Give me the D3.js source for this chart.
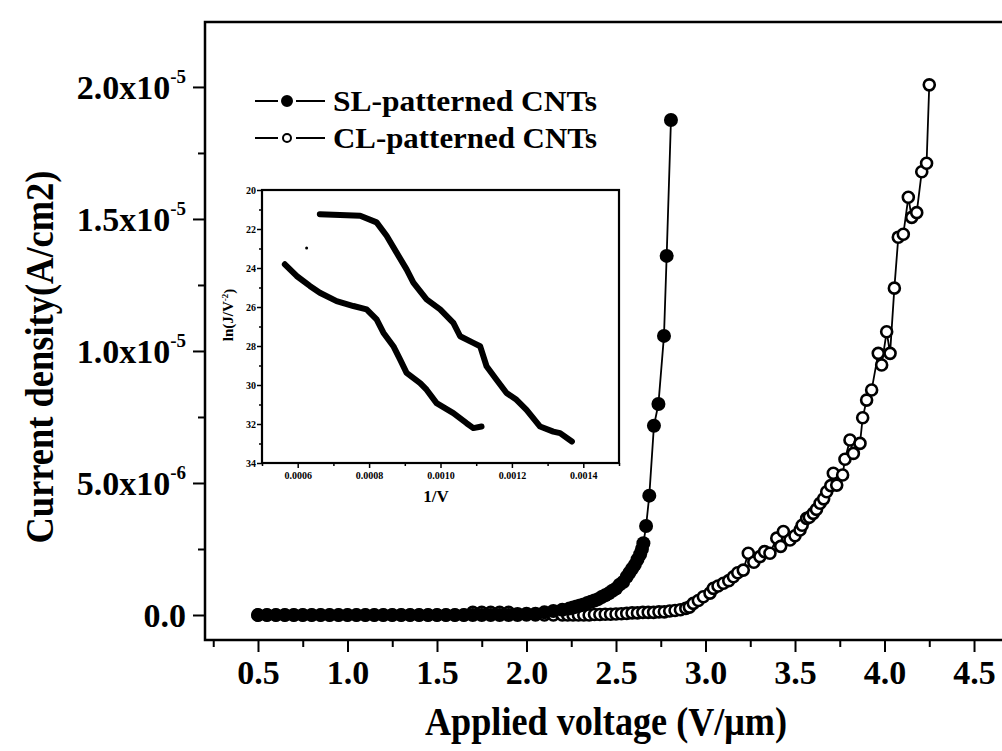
<!DOCTYPE html>
<html>
<head>
<meta charset="utf-8">
<script src="https://cdn.jsdelivr.net/npm/d3@7"></script>
<style>
  body { margin: 0; background: #fff; }
  svg { display: block; }
  text { font-family: "Liberation Serif", "Times New Roman", serif; font-weight: bold; fill: #000; }
</style>
</head>
<body>
<svg id="chart" width="1002" height="751"></svg>
<script>
// main plot: J in units of 1e-6 A/cm2
var slV = [0.50,0.55,0.60,0.65,0.70,0.75,0.80,0.85,0.90,0.95,1.00,1.05,1.10,1.15,1.20,1.25,1.30,1.35,1.40,1.45,1.50,1.55,1.60,1.65,1.70,1.75,1.80,1.85,1.90,1.95,2.00,2.05,2.10,2.15,2.20,
           2.24,2.26,2.28,2.30,2.32,2.34,2.36,2.38,2.40,2.42,2.44,2.46,2.48,2.50,2.52,2.54,2.56,2.575,2.59,2.605,2.62,2.635,2.645,2.653,
           2.668,2.686,2.712,2.737,2.768,2.783,2.807];
var slJ = [0,0,0,0,0,0,0,0,0,0,0,0,0,0,0,0,0,0,0,0,0,0,0,0,0,0,0,0,0,0,0.05,0.05,0.1,0.15,0.2,
           0.25,0.28,0.32,0.36,0.4,0.45,0.5,0.55,0.6,0.68,0.75,0.82,0.92,1.0,1.15,1.25,1.45,1.6,1.75,1.9,2.1,2.3,2.5,2.72,
           3.37,4.52,7.17,7.99,10.57,13.6,18.75];

var clV = [0.50,0.55,0.60,0.65,0.70,0.75,0.80,0.85,0.90,0.95,1.00,1.05,1.10,1.15,1.20,1.25,1.30,1.35,1.40,1.45,1.50,1.55,1.60,1.65,1.70,1.75,1.80,1.85,1.90,1.95,2.00,2.05,2.10,2.15,2.20,
           2.23,2.26,2.29,2.32,2.35,2.38,2.41,2.44,2.47,2.50,2.53,2.56,2.59,2.62,2.65,2.68,2.71,2.74,2.77,2.80,2.83,2.86,2.89,2.91,
           2.932,2.96,2.988,3.025,3.044,3.07,3.10,3.13,3.156,3.18,3.211,3.239,3.27,3.304,3.33,3.36,3.398,3.42,3.435,3.472,3.50,3.528,3.54,3.565,3.58,3.602,3.62,3.64,3.66,3.677,3.70,3.714,3.733,3.766,3.779,3.807,3.826,3.863,3.878,3.90,3.928,3.965,3.984,4.012,4.031,4.055,4.077,4.105,4.133,4.152,4.18,4.208,4.235,4.25];
var clJ = [0,0,0,0,0,0,0,0,0,0,0,0,0,0,0,0,0,0,0,0,0,0,0,0,0.1,0.1,0.1,0.1,0.1,0.05,0,0,0,0,0,
           0,0,0,0,0,0.02,0.02,0.03,0.03,0.04,0.05,0.06,0.08,0.08,0.1,0.1,0.1,0.12,0.12,0.15,0.17,0.2,0.25,0.3,
           0.44,0.55,0.69,0.83,1.01,1.1,1.2,1.3,1.45,1.6,1.7,2.34,2.0,2.21,2.4,2.34,2.91,2.6,3.16,2.84,3.0,3.22,3.4,3.66,3.7,3.85,4.0,4.23,4.4,4.67,4.9,5.37,4.92,5.3,5.9,6.63,6.12,6.5,7.47,8.14,8.52,9.91,9.47,10.73,9.91,12.38,14.31,14.42,15.82,15.06,15.24,16.79,17.11,20.08];

var xTicks = [0.5,1.0,1.5,2.0,2.5,3.0,3.5,4.0,4.5];
var xMinor = [0.25,0.75,1.25,1.75,2.25,2.75,3.25,3.75,4.25];
var yTicks = [0,5,10,15,20];
var yMant = ["0.0","5.0","1.0","1.5","2.0"];
var yExp = ["","-6","-5","-5","-5"];
var yMinor = [2.5,7.5,12.5,17.5];

var legendNames = ["SL-patterned CNTs","CL-patterned CNTs"];

// inset: ln(J/V^2) against 1/V
var inAx = [0.000662,0.000775,0.000821,0.000849,0.000877,0.000905,0.000924,0.000961,0.000999,0.001036,0.001055,0.001092,0.001111,0.001129,0.001157,0.001185,0.001213,0.001241,0.001279,0.001316,0.001335,0.001368];
var inAy = [21.24,21.32,21.66,22.35,23.21,24.07,24.75,25.61,26.12,26.81,27.50,27.84,28.01,29.04,29.73,30.41,30.76,31.27,32.13,32.39,32.47,32.90];
var inBx = [0.000564,0.000597,0.000634,0.000662,0.000709,0.000756,0.000793,0.000821,0.000840,0.000868,0.000887,0.000905,0.000943,0.000961,0.000989,0.001036,0.001073,0.001092,0.001115];
var inBy = [23.81,24.41,24.92,25.27,25.70,25.95,26.12,26.64,27.32,28.01,28.70,29.38,29.90,30.24,30.93,31.44,31.96,32.21,32.13];
var inStray = [0.000625, 22.98];
var inXTicks = [0.0006,0.0008,0.0010,0.0012,0.0014];
var inXMinor = [0.0005,0.0007,0.0009,0.0011,0.0013,0.0015];
var inYTicks = [20,22,24,26,28,30,32,34];
var inYMinor = [21,23,25,27,29,31,33];

var svg = d3.select("#chart");

var x = d3.scaleLinear().domain([0.204, 4.701]).range([205, 1010]);
var y = d3.scaleLinear().domain([-0.947, 22.46]).range([640, 22]);

// frame
svg.append("path")
    .attr("d", "M1010," + y.range()[1] + "H205V640H1010")
    .attr("fill", "none").attr("stroke", "#000").attr("stroke-width", 2.5);

// x axis
var gx = svg.append("g").attr("transform", "translate(0,640)");
gx.call(d3.axisBottom(x).tickValues(xTicks).tickSize(12).tickFormat(d3.format(".1f")));
gx.append("g").call(d3.axisBottom(x).tickValues(xMinor).tickSize(7).tickFormat(""));
gx.selectAll(".domain").remove();
gx.selectAll("line").attr("stroke", "#000").attr("stroke-width", 2);
gx.selectAll(".tick text").attr("font-size", 34).attr("y", 20).attr("dy", "0.71em")
    .style("font-family", "'Liberation Serif', serif").style("font-weight", "bold");

// y axis
var gy = svg.append("g").attr("transform", "translate(205,0)");
gy.call(d3.axisLeft(y).tickValues(yTicks).tickSize(12).tickFormat(""));
gy.append("g").call(d3.axisLeft(y).tickValues(yMinor).tickSize(7).tickFormat(""));
gy.selectAll(".domain").remove();
gy.selectAll("line").attr("stroke", "#000").attr("stroke-width", 2);
gy.selectAll(".tick").filter(function(d) { return yTicks.indexOf(d) >= 0; })
    .append("text")
    .attr("x", -19).attr("dy", "0.34em").attr("text-anchor", "end")
    .attr("font-size", 34)
    .each(function(d) {
        var i = yTicks.indexOf(d);
        var t = d3.select(this);
        if (yExp[i] === "") {
            t.text(yMant[i]);
        } else {
            t.append("tspan").text(yMant[i] + "x10");
            t.append("tspan").attr("font-size", 19).attr("dy", "-0.85em").text(yExp[i]);
        }
    });

// axis titles
svg.append("text")
    .attr("transform", "translate(53,357) rotate(-90)")
    .attr("text-anchor", "middle").attr("font-size", 40)
    .attr("textLength", 373).attr("lengthAdjust", "spacingAndGlyphs")
    .text("Current density(A/cm2)");
svg.append("text")
    .attr("x", 606).attr("y", 735)
    .attr("text-anchor", "middle").attr("font-size", 40)
    .attr("textLength", 362).attr("lengthAdjust", "spacingAndGlyphs")
    .text("Applied voltage (V/\u03bcm)");

// series
var line = d3.line().x(function(d) { return x(d[0]); }).y(function(d) { return y(d[1]); });
var slData = slV.map(function(v, i) { return [v, slJ[i]]; });
var clData = clV.map(function(v, i) { return [v, clJ[i]]; });

svg.append("path").datum(clData).attr("d", line)
    .attr("fill", "none").attr("stroke", "#000").attr("stroke-width", 1.8);
svg.append("path").datum(slData).attr("d", line)
    .attr("fill", "none").attr("stroke", "#000").attr("stroke-width", 1.8);

// open circles first, filled ones on top so the shared baseline reads dark
svg.append("g").selectAll("circle").data(clData).enter().append("circle")
    .attr("cx", function(d) { return x(d[0]); })
    .attr("cy", function(d) { return y(d[1]); })
    .attr("r", 5.5).attr("fill", "#fff").attr("stroke", "#000").attr("stroke-width", 2.6);
svg.append("g").selectAll("circle").data(slData).enter().append("circle")
    .attr("cx", function(d) { return x(d[0]); })
    .attr("cy", function(d) { return y(d[1]); })
    .attr("r", 7).attr("fill", "#000");

// legend
var leg = svg.append("g");
legendNames.forEach(function(name, i) {
    var ly = 101 + i * 37;
    leg.append("line").attr("x1", 255).attr("x2", 278).attr("y1", ly).attr("y2", ly)
        .attr("stroke", "#000").attr("stroke-width", 2);
    leg.append("line").attr("x1", 296).attr("x2", 325).attr("y1", ly).attr("y2", ly)
        .attr("stroke", "#000").attr("stroke-width", 2);
    leg.append("circle").attr("cx", 287).attr("cy", ly).attr("r", i === 0 ? 5 : 4)
        .attr("fill", i === 0 ? "#000" : "#fff").attr("stroke", "#000").attr("stroke-width", 2);
    leg.append("text").attr("x", 333).attr("y", ly + 10).attr("font-size", 30)
        .attr("textLength", 264).attr("lengthAdjust", "spacingAndGlyphs")
        .text(name);
});

// inset
var ix = d3.scaleLinear().domain([0.0005, 0.0015]).range([262, 619]);
var iy = d3.scaleLinear().domain([20, 34]).range([190, 463]);
var inset = svg.append("g");
inset.append("rect").attr("x", 262).attr("y", 190).attr("width", 357).attr("height", 273)
    .attr("fill", "#fff").attr("stroke", "#000").attr("stroke-width", 2.2);

var gix = inset.append("g").attr("transform", "translate(0,463)");
gix.call(d3.axisBottom(ix).tickValues(inXTicks).tickSize(5).tickFormat(d3.format(".4f")));
gix.append("g").call(d3.axisBottom(ix).tickValues(inXMinor).tickSize(3).tickFormat(""));
gix.selectAll(".domain").remove();
gix.selectAll("line").attr("stroke", "#000").attr("stroke-width", 1.5);
gix.selectAll(".tick text").attr("font-size", 10).attr("y", 9)
    .style("font-family", "'Liberation Serif', serif").style("font-weight", "bold");

var giy = inset.append("g").attr("transform", "translate(262,0)");
giy.call(d3.axisLeft(iy).tickValues(inYTicks).tickSize(5).tickFormat(d3.format("d")));
giy.append("g").call(d3.axisLeft(iy).tickValues(inYMinor).tickSize(3).tickFormat(""));
giy.selectAll(".domain").remove();
giy.selectAll("line").attr("stroke", "#000").attr("stroke-width", 1.5);
giy.selectAll(".tick text").attr("font-size", 10).attr("x", -6)
    .style("font-family", "'Liberation Serif', serif").style("font-weight", "bold");

inset.append("text").attr("x", 436).attr("y", 502).attr("text-anchor", "middle")
    .attr("font-size", 17).text("1/V");
var ilab = inset.append("text")
    .attr("transform", "translate(233,315) rotate(-90)")
    .attr("text-anchor", "middle").attr("font-size", 15);
ilab.append("tspan").text("ln(J/V");
ilab.append("tspan").attr("font-size", 9).attr("dy", "-0.6em").text("-2");
ilab.append("tspan").attr("dy", "0.4em").text(")");

var iline = d3.line().x(function(d) { return ix(d[0]); }).y(function(d) { return iy(d[1]); });
[[inAx, inAy], [inBx, inBy]].forEach(function(s) {
    var pts = s[0].map(function(v, i) { return [v, s[1][i]]; });
    inset.append("path").datum(pts).attr("d", iline)
        .attr("fill", "none").attr("stroke", "#000").attr("stroke-width", 6)
        .attr("stroke-linejoin", "round").attr("stroke-linecap", "round");
});
inset.append("circle").attr("cx", ix(inStray[0])).attr("cy", iy(inStray[1])).attr("r", 1.5).attr("fill", "#000");
</script>
</body>
</html>
